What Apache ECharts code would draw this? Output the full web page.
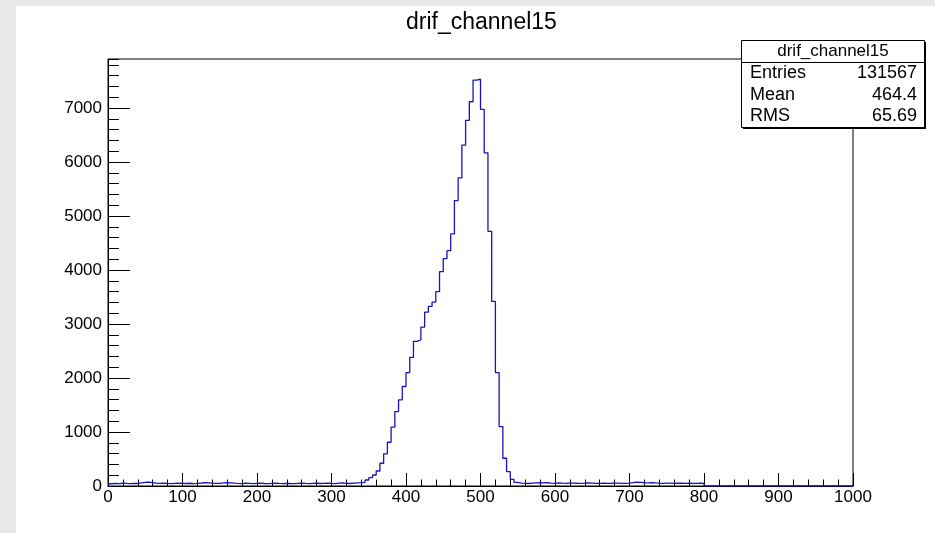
<!DOCTYPE html>
<html>
<head>
<meta charset="utf-8">
<script src="https://cdn.jsdelivr.net/npm/echarts@6/dist/echarts.min.js"></script>
<style>
html,body{margin:0;padding:0;background:#e9e9e9;width:935px;height:533px;overflow:hidden;}
#paper{position:absolute;left:16px;top:6px;width:919px;height:527px;background:#fff;}
#main{position:absolute;left:0;top:0;width:935px;height:533px;}
</style>
</head>
<body>
<div id="paper"></div>
<div id="main"></div>
<script>
// ---- data ----
const histTitle = 'drif_channel15';
const binLow = 0;
const binWidth = 5;
// bins 0..340
const countsLowTail = [42,48,45,51,47,44,50,46,58,66,
  70,63,55,49,52,47,45,50,53,48,
  46,51,44,49,55,60,58,52,47,50,
  56,62,59,53,48,45,51,47,43,49,
  52,46,44,48,51,47,45,50,46,43,
  48,52,47,44,49,51,46,50,54,48,
  45,52,57,49,46,53,58,62,68];
// bins 345..545
const countsPeak = [111,155,204,278,421,594,810,1089,1379,1596,
  1843,2102,2381,2678,2709,2944,3222,3327,3408,3599,
  3970,4211,4360,4669,5288,5708,6314,6772,7118,7520,
  7535,6976,6172,4718,3420,2102,1100,514,265,124,69];
// bins 550..795
const countsHighTail = [52,48,46,55,58,61,57,60,54,50,
  56,52,49,53,55,51,48,52,57,54,
  50,47,53,49,51,55,52,48,50,54,
  62,70,66,61,58,63,57,53,50,55,
  52,49,54,51,47,52,50,48,53,49];
// bins 800..995
const countsEmpty = [0,0,0,0,0,0,0,0,0,0,0,0,0,0,0,0,0,0,0,0,
  0,0,0,0,0,0,0,0,0,0,0,0,0,0,0,0,0,0,0,0];
const xMin = 0, xMax = 1000, xMajor = 100;
const yMin = 0, yMax = 7910, yMajor = 1000, yMinor = 200;
const statLabels = ['Entries', 'Mean', 'RMS'];
const statValues = ['131567', '464.4', '65.69'];

// ---- build ----
const counts = countsLowTail.concat(countsPeak, countsHighTail, countsEmpty);
const lineData = counts.map((c, i) => [binLow + i * binWidth, c]);
lineData.push([binLow + counts.length * binWidth, counts[counts.length - 1]]);

const FONT = "'Liberation Sans', Arial, Helvetica, sans-serif";
const chart = echarts.init(document.getElementById('main'), null, {renderer: 'canvas'});

const statRowsY = [73, 95, 116];
const graphics = [
  {type: 'rect', shape: {x: 743, y: 42, width: 183, height: 87}, style: {fill: '#000'}, z: 100},
  {type: 'rect', shape: {x: 741.5, y: 40.5, width: 183, height: 87}, style: {fill: '#fff', stroke: '#000', lineWidth: 1}, z: 101},
  {type: 'line', shape: {x1: 741.5, y1: 62.5, x2: 924.5, y2: 62.5}, style: {stroke: '#000', lineWidth: 1}, z: 102},
  {type: 'text', x: 833, y: 51.5, style: {text: histTitle, font: '17px ' + FONT, fill: '#000', textAlign: 'center', textVerticalAlign: 'middle'}, z: 103}
];
statLabels.forEach((lab, i) => {
  graphics.push({type: 'text', x: 750, y: statRowsY[i], style: {text: lab, font: '18px ' + FONT, fill: '#000', textAlign: 'left', textVerticalAlign: 'middle'}, z: 103});
  graphics.push({type: 'text', x: 917, y: statRowsY[i], style: {text: statValues[i], font: '18px ' + FONT, fill: '#000', textAlign: 'right', textVerticalAlign: 'middle'}, z: 103});
});

const plainNum = v => String(v);

chart.setOption({
  animation: false,
  backgroundColor: 'transparent',
  title: {
    text: histTitle, left: 401, top: 6,
    textStyle: {fontFamily: FONT, fontSize: 23, fontWeight: 'normal', color: '#000'}
  },
  grid: {left: 108, right: 82, top: 59, bottom: 47, show: true, borderColor: '#000', borderWidth: 1, backgroundColor: 'transparent'},
  xAxis: {
    type: 'value', min: xMin, max: xMax, interval: xMajor,
    axisLine: {show: true, onZero: false, lineStyle: {color: '#000', width: 1}},
    axisTick: {show: true, inside: true, length: 13, lineStyle: {color: '#000'}},
    minorTick: {show: true, splitNumber: 5, length: 6.5, lineStyle: {color: '#000'}},
    axisLabel: {fontFamily: FONT, fontSize: 17, color: '#000', margin: 3, formatter: plainNum},
    splitLine: {show: false}
  },
  yAxis: [
    {
      type: 'value', min: yMin, max: yMax, interval: yMajor,
      axisLine: {show: true, onZero: false, lineStyle: {color: '#000', width: 1}},
      axisTick: {show: true, inside: true, length: 22, lineStyle: {color: '#000'}},
      axisLabel: {fontFamily: FONT, fontSize: 17, color: '#000', margin: 6, showMaxLabel: false, formatter: plainNum},
      splitLine: {show: false}
    },
    {
      type: 'value', min: yMin, max: yMax, interval: yMinor, position: 'left', offset: 0,
      axisLine: {show: false},
      axisTick: {show: true, inside: true, length: 11, lineStyle: {color: '#000'}},
      axisLabel: {show: false},
      splitLine: {show: false}
    }
  ],
  series: [{
    type: 'line', step: 'end', data: lineData, xAxisIndex: 0, yAxisIndex: 0,
    showSymbol: false, symbol: 'none',
    lineStyle: {color: '#1414c0', width: 1.3},
    z: 5
  }],
  graphic: graphics
});
</script>
</body>
</html>
